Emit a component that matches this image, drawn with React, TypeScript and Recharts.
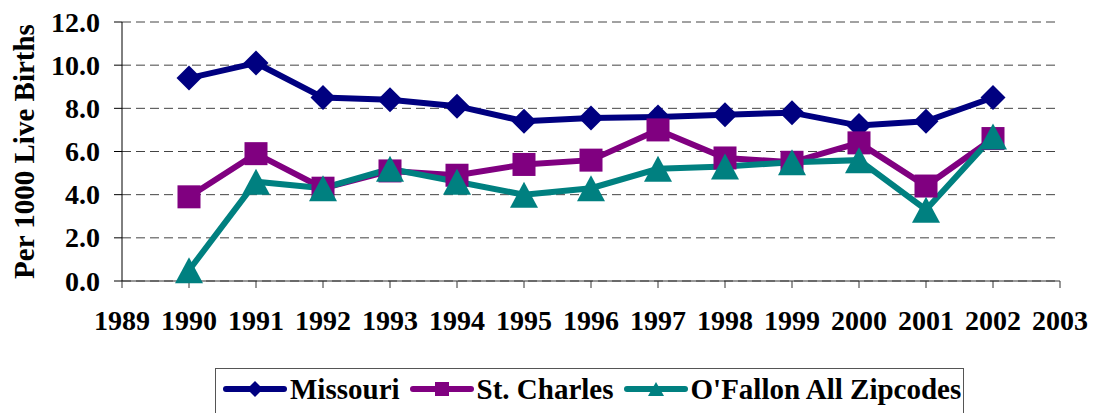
import { CartesianGrid, Legend, Line, LineChart, XAxis, YAxis } from 'recharts';

const years = [1990, 1991, 1992, 1993, 1994, 1995, 1996, 1997, 1998, 1999, 2000, 2001, 2002];
const missouri = [9.4, 10.1, 8.5, 8.4, 8.1, 7.4, 7.55, 7.6, 7.7, 7.8, 7.2, 7.4, 8.5];
const stCharles = [3.9, 5.9, 4.3, 5.1, 4.9, 5.4, 5.6, 7.0, 5.7, 5.5, 6.4, 4.4, 6.6];
const oFallon = [0.5, 4.6, 4.3, 5.2, 4.6, 4.0, 4.3, 5.2, 5.3, 5.5, 5.6, 3.3, 6.7];
const xTicks = [1989, 1990, 1991, 1992, 1993, 1994, 1995, 1996, 1997, 1998, 1999, 2000, 2001, 2002, 2003];
const yTicks = [0, 2, 4, 6, 8, 10, 12];

const NAVY = '#000080';
const PURPLE = '#800080';
const TEAL = '#008080';
const FONT = 'Liberation Serif';
const TICK_SIZE = 28;

const data = years.map((year, i) => ({
  year,
  missouri: missouri[i],
  stCharles: stCharles[i],
  oFallon: oFallon[i],
}));

type DotProps = { cx?: number; cy?: number };

function Diamond({ cx = 0, cy = 0, color, r = 12.5 }: DotProps & { color: string; r?: number }) {
  return (
    <polygon
      points={`${cx},${cy - r} ${cx + r},${cy} ${cx},${cy + r} ${cx - r},${cy}`}
      fill={color}
    />
  );
}

function Square({ cx = 0, cy = 0, color, r = 11.5 }: DotProps & { color: string; r?: number }) {
  return <rect x={cx - r} y={cy - r} width={r * 2} height={r * 2} fill={color} />;
}

function Triangle({ cx = 0, cy = 0, color, r = 13 }: DotProps & { color: string; r?: number }) {
  return (
    <polygon
      points={`${cx},${cy - r} ${cx + r + 1},${cy + r} ${cx - r - 1},${cy + r}`}
      fill={color}
    />
  );
}

const legendItems = [
  { label: 'Missouri', color: NAVY, shape: 'diamond' },
  { label: 'St. Charles', color: PURPLE, shape: 'square' },
  { label: "O'Fallon All Zipcodes", color: TEAL, shape: 'triangle' },
];

function LegendBox() {
  return (
    <div
      style={{
        border: '1px solid #555',
        background: '#fff',
        height: 50,
        boxSizing: 'border-box',
        display: 'flex',
        alignItems: 'flex-start',
        paddingLeft: 7,
        paddingTop: 5,
        whiteSpace: 'nowrap',
        fontFamily: FONT,
        fontWeight: 'bold',
        fontSize: 29,
        lineHeight: '30px',
      }}
    >
      {legendItems.map((item) => (
        <div key={item.label} style={{ display: 'flex', alignItems: 'center', marginRight: 10 }}>
          <svg width={64} height={20} style={{ marginRight: 3 }}>
            <line x1={3} y1={10} x2={61} y2={10} stroke={item.color} strokeWidth={6} strokeLinecap="round" />
            {item.shape === 'diamond' && <Diamond cx={32} cy={10} r={8} color={item.color} />}
            {item.shape === 'square' && <Square cx={32} cy={10} r={7} color={item.color} />}
            {item.shape === 'triangle' && <Triangle cx={32} cy={10} r={7} color={item.color} />}
          </svg>
          <span>{item.label}</span>
        </div>
      ))}
    </div>
  );
}

type TickProps = { x?: number; y?: number; payload?: { value: number } };

function XTick({ x = 0, y = 0, payload }: TickProps) {
  return (
    <text x={x} y={y} dy={42} textAnchor="middle" fontFamily={FONT} fontWeight="bold" fontSize={TICK_SIZE} fill="#000">
      {payload?.value}
    </text>
  );
}

function YTick({ x = 0, y = 0, payload }: TickProps) {
  return (
    <text x={x} y={y} dy={9.5} textAnchor="end" fontFamily={FONT} fontWeight="bold" fontSize={TICK_SIZE} fill="#000">
      {payload ? payload.value.toFixed(1) : ''}
    </text>
  );
}

export default function App() {
  return (
    <div style={{ position: 'absolute', left: 0, top: 0, width: 1093, height: 413, background: '#fff', overflow: 'hidden' }}>
      <LineChart width={1093} height={413} data={data} margin={{ top: 22, right: 33, left: 22, bottom: 22 }}>
        <CartesianGrid horizontal vertical={false} stroke="#444" strokeDasharray="9 5" />
        <XAxis
          type="number"
          dataKey="year"
          domain={[1989, 2003]}
          ticks={xTicks}
          interval={0}
          height={60}
          tickSize={7}
          tickMargin={0}
          stroke="#333"
          tick={<XTick />}
          allowDecimals={false}
        />
        <YAxis
          domain={[0, 12]}
          ticks={yTicks}
          width={100}
          tickSize={8}
          tickMargin={14}
          stroke="#000"
          tick={<YTick />}
          label={({ viewBox }: { viewBox?: { y: number; height: number } }) => {
            const cy = viewBox ? viewBox.y + viewBox.height / 2 : 152;
            return (
              <text
                x={24}
                y={cy}
                transform={`rotate(-90 24 ${cy})`}
                textAnchor="middle"
                dominantBaseline="central"
                fontFamily={FONT}
                fontWeight="bold"
                fontSize={29}
                fill="#000"
              >
                Per 1000 Live Births
              </text>
            );
          }}
        />
        <Legend
          content={() => <LegendBox />}
          wrapperStyle={{ position: 'absolute', left: 215, top: 368, width: 749, height: 50, bottom: 'auto' }}
        />
        <Line
          dataKey="missouri"
          name="Missouri"
          stroke={NAVY}
          strokeWidth={6}
          isAnimationActive={false}
          dot={(p: DotProps & { key?: string }) => <Diamond key={p.key} cx={p.cx} cy={p.cy} color={NAVY} />}
        />
        <Line
          dataKey="stCharles"
          name="St. Charles"
          stroke={PURPLE}
          strokeWidth={6}
          isAnimationActive={false}
          dot={(p: DotProps & { key?: string }) => <Square key={p.key} cx={p.cx} cy={p.cy} color={PURPLE} />}
        />
        <Line
          dataKey="oFallon"
          name="O'Fallon All Zipcodes"
          stroke={TEAL}
          strokeWidth={6}
          isAnimationActive={false}
          dot={(p: DotProps & { key?: string }) => <Triangle key={p.key} cx={p.cx} cy={p.cy} color={TEAL} />}
        />
      </LineChart>
    </div>
  );
}
